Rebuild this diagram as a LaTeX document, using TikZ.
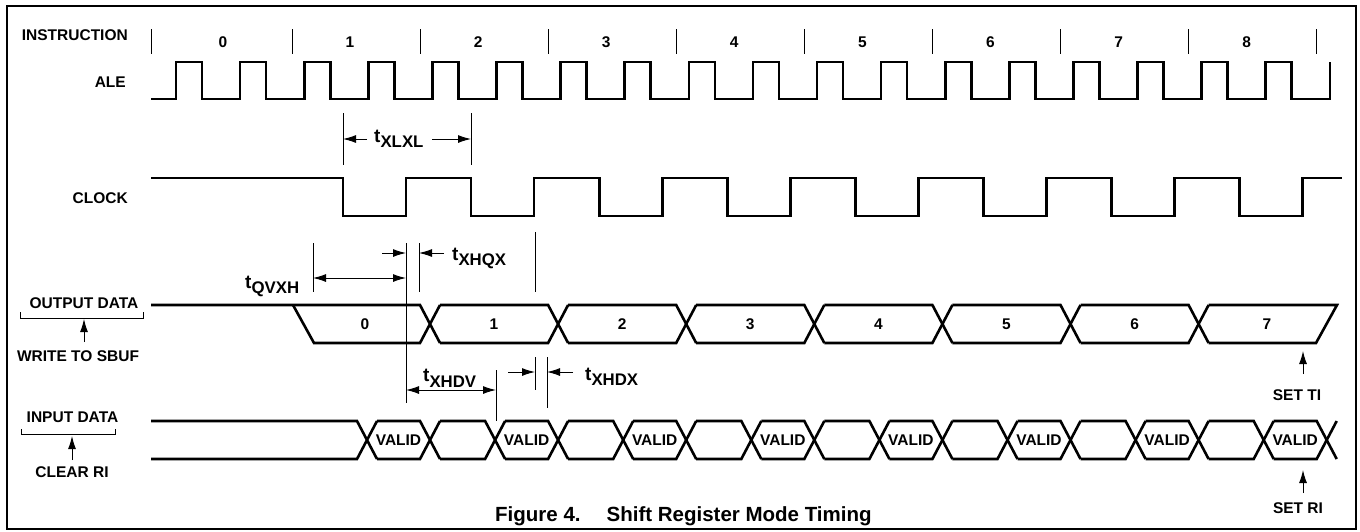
\documentclass[tikz,border=0pt]{standalone}
\usepackage{fontspec}
\setmainfont{Liberation Sans}
\usetikzlibrary{arrows.meta}
\newcommand{\tname}[1]{{\fontsize{19}{19}\selectfont t}\raisebox{-5.4pt}{\fontsize{16.8}{17}\selectfont #1}}
\begin{document}
\begin{tikzpicture}[x=1pt, y=-1pt, font=\bfseries\fontsize{15.5}{16}\selectfont,
  sig/.style={line width=2.6pt},
  tick/.style={line width=1pt},
  dim/.style={line width=1pt, -{Latex[length=13pt,width=8pt]}},
  dimboth/.style={line width=1pt, {Latex[length=13pt,width=8pt]}-{Latex[length=13pt,width=8pt]}},
  lbl/.style={inner sep=0pt},
  tlbl/.style={inner sep=0pt, anchor=base west}]
\useasboundingbox (0,0) rectangle (1360,531);
\draw[line width=2pt] (7,6) rectangle (1355.5,528.5);%frame
\begin{scope}[every node/.style={lbl, anchor=east}]
\node (instr) at (128,35) {INSTRUCTION};
\node (ale) at (126,82) {ALE};
\node (clock) at (128,198) {CLOCK};
\end{scope}
\begin{scope}[every node/.style={lbl}]
\node (outdata) at (84,303) {OUTPUT DATA};
\node (wsbuf) at (78,356) {WRITE TO SBUF};
\node (indata) at (72.5,417) {INPUT DATA};
\node (clrri) at (72,472) {CLEAR RI};
\node (setti) at (1297,395) {SET TI};
\node (setri) at (1298,508) {SET RI};
\end{scope}
%instruction
\draw[tick] (151,29) -- ++(0,25);
\node[lbl] (i0) at (223,42) {0};
\foreach \j in {1,...,9} \draw[tick] ({292+128.1*(\j-1)},29) -- ++(0,25);
\foreach \i in {1,...,8} \node[lbl] (i\i) at ({350+128.1*(\i-1)},42) {\i};
%ALE
\draw[sig] (151,99) foreach \k in {0,...,17} { -- ({176+64.1*\k},99) -- ++(0,-37) -- ++(26,0) -- ++(0,37) } -- (1329.8,99) -- (1329.8,62);
%CLOCK
\draw[sig] (151,178) foreach \k in {0,...,7} { -- ({343+128.1*\k},178) -- ++(0,38) -- ++(63,0) -- ++(0,-38) } -- (1342,178);
%OUTPUT DATA
\draw[sig] (151,305) -- (420,305) -- (440,343);
\draw[sig] (440,305) -- (420,343) -- (314,343) -- (293,305);
\node[lbl] (o0) at (365,324) {0};
\foreach \k in {1,...,6} {
  \pgfmathsetmacro{\a}{430+128.1*(\k-1)}
  \pgfmathsetmacro{\b}{430+128.1*\k}
  \draw[sig] ({\a+10},305) -- ({\b-10},305) -- ({\b+10},343);
  \draw[sig] ({\a+10},343) -- ({\b-10},343) -- ({\b+10},305);
  \node[lbl] (o\k) at ({(\a+\b)/2},324) {\k};
}
\draw[sig] (1208.6,305) -- (1337,305) -- (1316,343) -- (1208.6,343);
\node[lbl] (o7) at (1267,324) {7};
%INPUT DATA
\draw[sig] (151,421) -- (357,421) -- (377,459);
\draw[sig] (151,459) -- (357,459) -- (377,421);
\foreach \m in {0,...,7} {
  \pgfmathsetmacro{\s}{367+128.1*\m}
  \pgfmathsetmacro{\e}{430+128.1*\m}
  \draw[sig] ({\s+10},421) -- ({\e-10},421) -- ({\e+10},459);
  \draw[sig] ({\s+10},459) -- ({\e-10},459) -- ({\e+10},421);
  \node[lbl] (v\m) at ({(\s+\e)/2},440) {VALID};
}
\foreach \m in {0,...,6} {
  \pgfmathsetmacro{\e}{430+128.1*\m}
  \pgfmathsetmacro{\s}{495.1+128.1*\m}
  \draw[sig] ({\e+10},421) -- ({\s-10},421) -- ({\s+10},459);
  \draw[sig] ({\e+10},459) -- ({\s-10},459) -- ({\s+10},421);
}
%brackets and arrows at the left
\draw[tick] (20,312) -- (20,318) -- (143,318) -- (143,312);
\draw[tick] (21,429) -- (21,434) -- (115,434) -- (115,429);
\coordinate (wb0) at (84,342); \coordinate (wb1) at (84,319);
\coordinate (cr0) at (72,460); \coordinate (cr1) at (72,436);
\coordinate (ti0) at (1303,374); \coordinate (ti1) at (1303,351);
\coordinate (ri0) at (1303,493); \coordinate (ri1) at (1303,470);
\path[dim] (wb0) edge (wb1) (cr0) edge (cr1) (ti0) edge (ti1) (ri0) edge (ri1);
%timing marks
\coordinate (xl1t) at (343,113); \coordinate (xl1b) at (343,165);
\coordinate (xl2t) at (471,113); \coordinate (xl2b) at (471,165);
\coordinate (qv1t) at (313,243); \coordinate (qv1b) at (313,292);
\coordinate (xh0t) at (406,243); \coordinate (xh0b) at (406,403);
\coordinate (xq1t) at (419,243); \coordinate (xq1b) at (419,292);
\coordinate (xq2t) at (535,232); \coordinate (xq2b) at (535,292);
\coordinate (dv1t) at (496,370); \coordinate (dv1b) at (496,421);
\coordinate (dx1t) at (535,357); \coordinate (dx1b) at (535,390);
\coordinate (dx2t) at (547,357); \coordinate (dx2b) at (547,408);
\draw[tick] (xl1t) -- (xl1b) (xl2t) -- (xl2b) (qv1t) -- (qv1b) (xh0t) -- (xh0b)
  (xq1t) -- (xq1b) (xq2t) -- (xq2b) (dv1t) -- (dv1b) (dx1t) -- (dx1b) (dx2t) -- (dx2b);
\node[tlbl] (txlxl) at (374,142.3) {\tname{XLXL}};
\node[tlbl] (tqvxh) at (245,288) {\tname{QVXH}};
\node[tlbl] (txhqx) at (452,260) {\tname{XHQX}};
\node[tlbl] (txhdv) at (423,381.7) {\tname{XHDV}};
\node[tlbl] (txhdx) at (585,380) {\tname{XHDX}};
\coordinate (xl1s) at (367,139); \coordinate (xl1) at (343,139);
\coordinate (xl2s) at (432,139); \coordinate (xl2) at (471,139);
\coordinate (qv1) at (313,278); \coordinate (qv2) at (406,278);
\coordinate (xq0s) at (382,253); \coordinate (xq0) at (406,253);
\coordinate (xq1s) at (444,253); \coordinate (xq1) at (419,253);
\coordinate (dv1) at (406,390); \coordinate (dv2) at (496,390);
\coordinate (dx1s) at (508,372); \coordinate (dx1) at (535,372);
\coordinate (dx2s) at (573,372); \coordinate (dx2) at (547,372);
\path[dim] (xl1s) edge (xl1) (xl2s) edge (xl2) (xq0s) edge (xq0) (xq1s) edge (xq1)
  (dx1s) edge (dx1) (dx2s) edge (dx2);
\path[dimboth] (qv1) edge (qv2) (dv1) edge (dv2);
%caption
\node[anchor=base west, inner sep=0pt] (caption) at (495,521.5) {\fontsize{20.5}{21}\selectfont Figure 4.\hspace{26pt}Shift Register Mode Timing};
\end{tikzpicture}
\end{document}
